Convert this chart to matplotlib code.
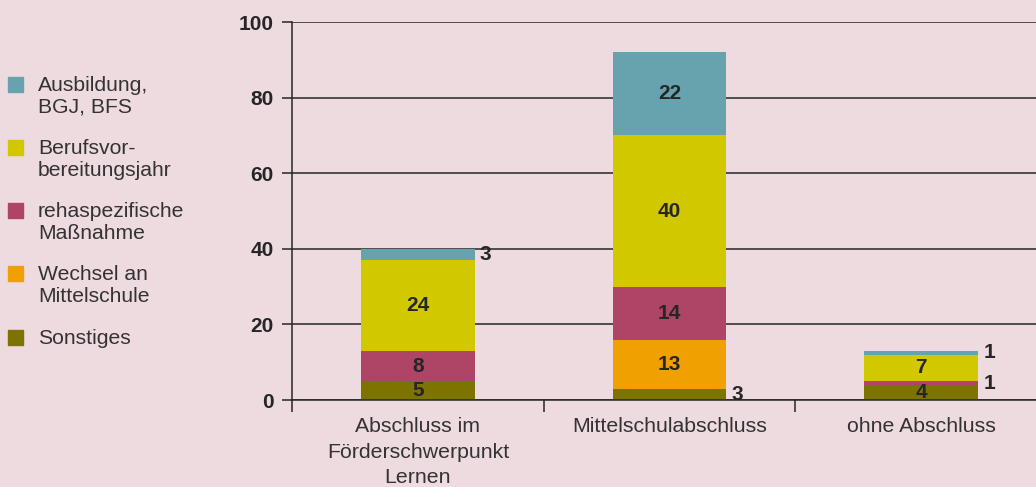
import numpy as np
import matplotlib
matplotlib.use("Agg")
import matplotlib.pyplot as plt
from matplotlib.patches import Rectangle

# data
categories = ["Abschluss im\nFörderschwerpunkt\nLernen", "Mittelschulabschluss", "ohne Abschluss"]
series = ["Sonstiges", "Wechsel an\nMittelschule", "rehaspezifische\nMaßnahme",
          "Berufsvor-\nbereitungsjahr", "Ausbildung,\nBGJ, BFS"]
sonstiges = [5, 3, 4]
wechsel = [0, 13, 0]
reha = [8, 14, 1]
bvj = [24, 40, 7]
ausbildung = [3, 22, 1]
values = [sonstiges, wechsel, reha, bvj, ausbildung]
colors = ["#7d7400", "#f0a000", "#ae4466", "#d2c800", "#66a3ae"]
yticks = [0, 20, 40, 60, 80, 100]

bg = "#eedbe0"
dark = "#262626"
plt.rcParams['font.family'] = ['Liberation Sans', 'DejaVu Sans']

fig = plt.figure(figsize=(10.36, 4.87), dpi=100, facecolor=bg)
ax = fig.add_axes([0.2819, 0.1786, 0.7181, 0.7762])
ax.set_facecolor(bg)

x = np.arange(len(categories))
width = 0.452
bottom = np.zeros(len(categories))
for vals, col in zip(values, colors):
    vals = np.array(vals, dtype=float)
    ax.bar(x, vals, width, bottom=bottom, color=col, zorder=3, linewidth=0)
    for i, v in enumerate(vals):
        if v == 0:
            continue
        yc = bottom[i] + v / 2
        if v >= 4:
            ax.text(x[i], yc, "%d" % v, ha="center", va="center",
                    fontsize=15, fontweight="bold", color=dark, zorder=4)
        else:
            ax.text(x[i] + width / 2 + 0.02, yc, "%d" % v, ha="left", va="center",
                    fontsize=15, fontweight="bold", color=dark, zorder=4)
    bottom += vals

ax.set_xlim(-0.5, 2.456)
ax.set_ylim(0, 100)
ax.set_yticks(yticks)
ax.set_yticklabels([str(t) for t in yticks], fontsize=15, fontweight="bold", color=dark)
ax.yaxis.grid(True, color=dark, linewidth=1.1, zorder=1)
ax.set_axisbelow(True)
ax.tick_params(axis="y", length=7.2, width=1.1, color=dark, pad=6)

ax.set_xticks(x)
ax.set_xticklabels(categories, fontsize=15.3, color="#333333", linespacing=1.42)
ax.tick_params(axis="x", which="major", length=0, pad=12.5)
ax.set_xticks([-0.5, 0.5, 1.5], minor=True)
ax.tick_params(axis="x", which="minor", length=8.6, width=1.1, color=dark)

for s in ["top", "right"]:
    ax.spines[s].set_visible(False)
for s in ["left", "bottom"]:
    ax.spines[s].set_color(dark)
    ax.spines[s].set_linewidth(1.1)
    ax.spines[s].set_zorder(5)

# legend drawn by hand on the left
leg_y = [84, 147, 210, 273, 337]
for name, col, yy in zip(series[::-1], colors[::-1], leg_y):
    fy = 1 - yy / 487.0
    fig.patches.append(Rectangle((8 / 1036.0, fy - 7.5 / 487.0), 15 / 1036.0, 15 / 487.0,
                                 transform=fig.transFigure, color=col))
    fig.text(38 / 1036.0, fy + 8 / 487.0, name, ha="left", va="top", fontsize=15.2,
             color="#333333", linespacing=1.18)

fig.savefig("out.png", dpi=100, facecolor=bg)
